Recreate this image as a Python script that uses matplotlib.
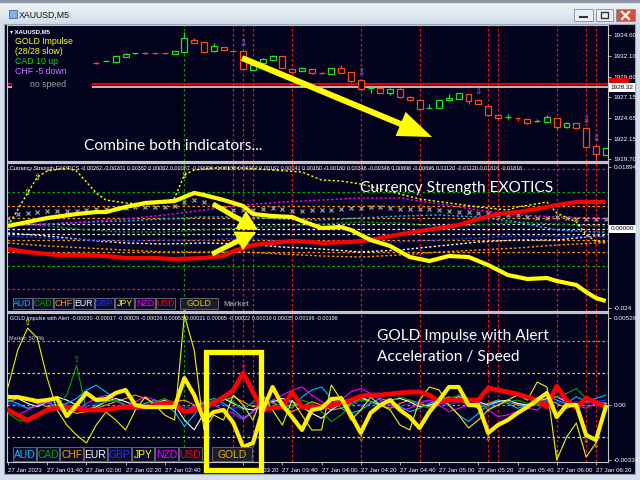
import numpy as np
import matplotlib
matplotlib.use('Agg')
import matplotlib.pyplot as plt
from matplotlib.patches import Rectangle, FancyArrow
from matplotlib.colors import LinearSegmentedColormap
import matplotlib.transforms as mtransforms

plt.rcParams['font.family'] = ['Liberation Sans Narrow', 'Liberation Sans', 'DejaVu Sans']

# ---------------- data ----------------
symbol = 'XAUUSD,M5'
time_labels = ['27 Jan 2023', '27 Jan 01:40', '27 Jan 02:00', '27 Jan 02:20', '27 Jan 02:40',
               '27 Jan 03:00', '27 Jan 03:20', '27 Jan 03:40', '27 Jan 04:00', '27 Jan 04:20',
               '27 Jan 04:40', '27 Jan 05:00', '27 Jan 05:20', '27 Jan 05:40', '27 Jan 06:00',
               '27 Jan 06:20']
n_bars = 62
candle_start = 9
opens = [1931.30, 1931.45, 1931.37, 1932.00, 1932.42, 1932.45, 1932.44, 1932.42, 1932.35, 1932.56,
         1934.00, 1933.76, 1932.68, 1933.16, 1932.70, 1932.68, 1930.41, 1931.30, 1931.60, 1932.08,
         1930.53, 1930.30, 1930.50, 1930.07, 1929.93, 1930.65, 1930.17, 1929.21, 1928.20, 1928.25,
         1927.65, 1928.13, 1927.17, 1926.81, 1925.83, 1925.85, 1926.85, 1926.93, 1927.53, 1926.81,
         1926.09, 1925.01, 1924.76, 1924.68, 1924.54, 1924.28, 1924.18, 1924.66, 1923.58, 1924.06,
         1923.46, 1921.30, 1920.22]
highs = [1931.40, 1931.65, 1932.10, 1932.40, 1932.50, 1932.55, 1932.50, 1932.50, 1932.70, 1934.96,
         1934.30, 1933.80, 1933.60, 1933.20, 1932.72, 1932.70, 1931.05, 1931.85, 1932.20, 1932.10,
         1930.60, 1930.70, 1930.55, 1930.20, 1930.70, 1931.00, 1930.20, 1929.25, 1928.60, 1928.30,
         1928.20, 1928.30, 1927.25, 1926.85, 1926.30, 1926.85, 1927.50, 1927.70, 1927.55, 1926.95,
         1926.15, 1925.05, 1925.10, 1924.70, 1924.60, 1924.50, 1925.00, 1924.70, 1924.20, 1924.10,
         1923.50, 1921.35, 1921.10]
lows = [1931.15, 1931.45, 1931.30, 1931.95, 1932.38, 1932.35, 1932.30, 1932.30, 1932.30, 1932.50,
        1933.60, 1932.50, 1932.60, 1932.80, 1932.60, 1930.45, 1930.35, 1931.25, 1931.55, 1930.60,
        1930.10, 1930.25, 1929.95, 1929.95, 1929.90, 1930.00, 1929.00, 1928.00, 1927.65, 1927.60,
        1927.40, 1927.00, 1926.75, 1925.70, 1925.83, 1925.80, 1926.80, 1926.90, 1926.30, 1926.30,
        1924.90, 1924.60, 1924.50, 1924.30, 1923.90, 1924.20, 1924.15, 1923.40, 1923.50, 1923.40,
        1921.10, 1919.75, 1920.20]
closes = [1931.22, 1931.47, 1932.05, 1932.30, 1932.45, 1932.42, 1932.40, 1932.40, 1932.65, 1934.24,
          1933.70, 1932.56, 1933.28, 1932.85, 1932.66, 1930.53, 1931.00, 1931.70, 1932.08, 1930.65,
          1930.17, 1930.60, 1930.10, 1930.03, 1930.65, 1930.05, 1929.09, 1928.13, 1928.30, 1927.65,
          1928.13, 1927.17, 1926.81, 1925.73, 1925.87, 1926.81, 1927.10, 1927.65, 1926.69, 1926.33,
          1925.01, 1924.66, 1924.80, 1924.64, 1924.06, 1924.32, 1924.78, 1923.58, 1924.06, 1923.46,
          1921.18, 1920.34, 1921.06]
signal_bars = [24, 36, 48, 59, 60]
red_vlines = [23, 24, 25, 29, 36, 42, 49, 50, 56, 59, 60]
green_vlines = [18]
ask_line = 1928.73
bid_line = 1928.32
price_ticks = [1934.60, 1932.10, 1929.60, 1927.15, 1924.65, 1922.15, 1919.70]
info_lines = ['GOLD Impulse', '(28/28 slow)', 'CAD 10 up', 'CHF -5 down', 'no speed']

currencies = ['AUD', 'CAD', 'CHF', 'EUR', 'GBP', 'JPY', 'NZD', 'USD']

cs_title = 'Currency Strength EXOTICS'
cs_header_vals = ['-0.00262', '-0.00201', '0.00382', '0.00062', '0.00067', '-0.00098', '-0.00138',
                  '0.00097', '0.00162', '0.00041', '0.00160', '-0.00160', '0.00348', '-0.00348',
                  '0.00696', '-0.00696', '0.01120', '-0.01120', '0.01816', '-0.01816']
cs_levels = [0.00160, 0.00348, 0.00696, 0.01120, 0.01816]
cs_ticks = [0.01894, -0.024]
cs_gold_x = [0, 2, 4, 7, 9, 10, 12, 14, 17, 18, 19, 20, 22, 24, 25, 27, 29, 30, 32, 34, 35, 37,
             39, 41, 43, 45, 47, 49, 51, 53, 55, 56, 58, 59, 60, 61]
cs_gold = [0.00091, 0.00213, 0.00335, 0.00457, 0.00518, 0.00518, 0.00671, 0.00793, 0.00854, 0.00976,
           0.01098, 0.01037, 0.00884, 0.00701, 0.00457, 0.00396, 0.00366, 0.00244, 0.00030, 0.00061,
           -0.00030, -0.00335, -0.00518, -0.00854, -0.00976, -0.00823, -0.00854, -0.01098, -0.01402,
           -0.01524, -0.01494, -0.01585, -0.01707, -0.01921, -0.02104, -0.02195]
cs_usd_x = [0, 2, 5, 8, 10, 12, 15, 17, 20, 22, 23, 25, 26, 29, 31, 32, 35, 37, 39, 42, 44, 46,
            48, 50, 52, 54, 56, 58, 61]
cs_usd = [-0.00610, -0.00701, -0.00793, -0.00793, -0.00823, -0.00884, -0.00884, -0.00915, -0.00884,
          -0.00823, -0.00671, -0.00488, -0.00457, -0.00366, -0.00396, -0.00427, -0.00396, -0.00335,
          -0.00213, -0.00061, 0.00030, 0.00122, 0.00305, 0.00457, 0.00518, 0.00610, 0.00732,
          0.00823, 0.00823]
cs_market = [0.00335, 0.00457, 0.00488, 0.00518, 0.00549, 0.00549, 0.00549, 0.00549, 0.00579, 0.00610,
             0.00610, 0.00640, 0.00640, 0.00671, 0.00671, 0.00671, 0.00671, 0.00701, 0.00823, 0.00884,
             0.00823, 0.00732, 0.00640, 0.00579, 0.00579, 0.00579, 0.00610, 0.00640, 0.00610, 0.00549,
             0.00549, 0.00579, 0.00579, 0.00579, 0.00610, 0.00640, 0.00640, 0.00671, 0.00671, 0.00640,
             0.00610, 0.00610, 0.00610, 0.00610, 0.00579, 0.00549, 0.00518, 0.00518, 0.00488, 0.00488,
             0.00427, 0.00427, 0.00427, 0.00366, 0.00335, 0.00335, 0.00366, 0.00335, 0.00305, 0.00305,
             0.00305, 0.00305]
cs_cur_x = [0, 4, 8, 12, 16, 20, 24, 28, 32, 36, 40, 44, 48, 52, 56, 60, 61]
cs_aud = [0.00122, 0.00152, 0.00213, 0.00244, 0.00305, 0.00366, 0.00366, 0.00305, 0.00274, 0.00335,
          0.00396, 0.00427, 0.00366, 0.00213, -0.00030, -0.00091, -0.00091]
cs_cad = [0.00213, 0.00091, -0.00030, -0.00091, -0.00091, -0.00030, 0.00030, 0.00091, 0.00152,
          0.00213, 0.00183, 0.00091, 0.00122, 0.00213, 0.00152, 0.00091, 0.00091]
cs_chf = [-0.00427, -0.00518, -0.00579, -0.00640, -0.00701, -0.00701, -0.00701, -0.00762, -0.00823,
          -0.00854, -0.00793, -0.00701, -0.00640, -0.00579, -0.00488, -0.00427, -0.00427]
cs_eur = [-0.00122, -0.00213, -0.00335, -0.00427, -0.00457, -0.00427, -0.00457, -0.00549, -0.00610,
          -0.00701, -0.00640, -0.00518, -0.00396, -0.00335, -0.00335, -0.00213, -0.00213]
cs_gbp = [-0.00213, -0.00274, -0.00335, -0.00366, -0.00335, -0.00335, -0.00274, -0.00366, -0.00427,
          -0.00396, -0.00396, -0.00335, -0.00274, -0.00213, -0.00213, -0.00244, -0.00244]
cs_nzd = [0.00091, 0.00152, 0.00213, 0.00305, 0.00427, 0.00579, 0.00732, 0.00823, 0.00884, 0.00945,
          0.00945, 0.00762, 0.00579, 0.00427, 0.00366, 0.00335, 0.00305]
cs_jpy_x = [0, 2, 3, 4, 6, 7, 8, 9, 10, 12, 14, 16, 17, 18, 19, 21, 24, 27, 30, 32, 34, 36, 38, 40,
            42, 45, 48, 51, 52, 55, 56, 58, 59, 60, 61]
cs_jpy = [0.00091, 0.01098, 0.01585, 0.01768, 0.01860, 0.01768, 0.01433, 0.01098, 0.00884, 0.00793,
          0.00762, 0.00793, 0.00945, 0.01646, 0.01799, 0.01860, 0.01860, 0.01799, 0.01738, 0.01494,
          0.01463, 0.01372, 0.01220, 0.01067, 0.00915, 0.00793, 0.00671, 0.00579, 0.00671, 0.00823,
          0.00488, 0.00213, -0.00183, -0.00366, -0.00396]
cs_up_arrows = [2, 3, 18]

gi_title = 'GOLD Impulse with Alert'
gi_header_vals = ['-0.00030', '-0.00017', '-0.00029', '-0.00026', '0.00053', '0.00021', '0.00065',
                  '-0.00022', '0.00019', '0.00035', '0.00196', '-0.00196']
gi_market_label = 'Market: 50 Pib'
gi_market_level = 0.0039
gi_level = 0.00196
gi_ticks = [0.00526, 0.0, -0.00334]
gi_tick_labels = ['0.00526', '0.00', '-0.00334']
gi_gold = [0.00048, 0.00048, 0.00036, 0.00024, 0.00030, 0.00042, -0.00067, 0.00000, 0.00073, 0.00030,
           0.00036, 0.00073, 0.00091, 0.00000, -0.00012, -0.00012, -0.00012, -0.00012, 0.00163, 0.00061,
           -0.00091, -0.00042, -0.00030, -0.00109, -0.00254, -0.00230, -0.00030, 0.00109, 0.00000, -0.00073,
           -0.00151, -0.00030, -0.00018, 0.00036, 0.00042, -0.00061, -0.00169, -0.00048, 0.00000, 0.00030,
           -0.00030, -0.00073, -0.00139, -0.00042, 0.00030, 0.00109, 0.00109, 0.00000, 0.00000, -0.00169,
           -0.00121, -0.00091, -0.00048, -0.00012, 0.00030, 0.00073, -0.00073, 0.00000, 0.00000, -0.00182,
           -0.00212, -0.00012]
gi_usd = [-0.00030, -0.00061, -0.00091, -0.00061, -0.00030, -0.00018, -0.00012, -0.00018, -0.00030, -0.00030,
          -0.00030, -0.00018, -0.00012, -0.00012, -0.00012, 0.00000, 0.00012, 0.00012, -0.00042, -0.00030,
          -0.00012, 0.00012, 0.00048, 0.00091, 0.00194, 0.00079, -0.00030, -0.00018, -0.00012, 0.00079,
          -0.00012, -0.00012, -0.00012, 0.00000, 0.00012, 0.00030, 0.00054, 0.00061, 0.00061, 0.00067,
          0.00073, 0.00079, 0.00079, 0.00061, 0.00018, 0.00030, 0.00030, 0.00030, 0.00030, 0.00103,
          0.00091, 0.00079, 0.00067, 0.00048, 0.00030, -0.00012, 0.00115, 0.00030, -0.00018, 0.00042,
          0.00018, -0.00012]
gi_jpy = [0.00109, 0.00333, 0.00466, 0.00405, 0.00163, -0.00030, -0.00121, -0.00182, -0.00230, -0.00121,
          -0.00042, -0.00091, -0.00151, -0.00030, 0.00048, 0.00000, -0.00061, -0.00091, 0.00545, 0.00333,
          -0.00151, -0.00061, -0.00091, 0.00061, 0.00000, -0.00091, 0.00061, -0.00030, -0.00121, 0.00030,
          -0.00061, -0.00151, -0.00151, 0.00121, 0.00030, -0.00091, -0.00030, 0.00048, 0.00000, -0.00030,
          -0.00121, -0.00151, 0.00030, 0.00109, 0.00091, 0.00000, -0.00061, -0.00139, -0.00091, -0.00030,
          0.00000, 0.00030, 0.00061, 0.00030, 0.00139, 0.00109, -0.00333, -0.00194, -0.00109, -0.00315,
          -0.00230, 0.00012]
gi_aud = [0.0003, 0.0001, -0.0002, 0.0000, 0.0002, -0.0001, 0.0001, 0.0004, 0.0009, 0.0012,
          0.0008, 0.0003, 0.0000, -0.0002, 0.0001, 0.0003, 0.0000, -0.0004, -0.0013, -0.0006,
          0.0002, 0.0004, 0.0001, -0.0003, -0.0008, -0.0004, 0.0000, 0.0003, 0.0001, -0.0002,
          0.0005, 0.0009, 0.0011, 0.0004, -0.0002, -0.0005, -0.0003, 0.0001, 0.0004, 0.0002,
          -0.0001, -0.0004, -0.0002, 0.0001, 0.0003, 0.0000, -0.0006, -0.0010, -0.0005, 0.0000,
          0.0003, 0.0001, -0.0002, 0.0000, 0.0004, 0.0006, 0.0003, 0.0001, 0.0005, 0.0002,
          0.0004, 0.0006]
gi_cad = [-0.0005, -0.0009, -0.0010, -0.0006, -0.0002, 0.0000, 0.0006, 0.0024, -0.0003, 0.0000,
          0.0002, 0.0003, 0.0000, -0.0003, -0.0001, 0.0002, 0.0004, 0.0001, -0.0004, -0.0002,
          0.0000, 0.0003, 0.0005, 0.0002, -0.0003, 0.0002, 0.0004, 0.0001, -0.0002, 0.0000,
          0.0003, 0.0001, -0.0004, -0.0010, -0.0006, 0.0000, 0.0003, 0.0002, -0.0001, 0.0002,
          0.0005, 0.0003, 0.0000, -0.0002, 0.0001, 0.0004, 0.0006, 0.0003, 0.0001, -0.0002,
          0.0000, 0.0002, 0.0003, 0.0001, 0.0000, 0.0002, 0.0005, 0.0007, 0.0010, 0.0004,
          0.0002, 0.0001]
gi_chf = [0.0002, 0.0004, 0.0003, 0.0001, -0.0001, 0.0000, -0.0003, -0.0005, -0.0004, -0.0002,
          0.0000, 0.0002, 0.0004, 0.0006, 0.0004, 0.0001, -0.0001, 0.0002, 0.0003, 0.0000,
          -0.0002, 0.0001, 0.0003, 0.0005, 0.0002, -0.0001, 0.0000, 0.0002, -0.0002, -0.0004,
          -0.0001, 0.0002, 0.0000, -0.0003, -0.0002, 0.0001, 0.0004, 0.0002, 0.0000, -0.0002,
          0.0001, 0.0003, 0.0001, -0.0001, 0.0002, 0.0005, 0.0003, 0.0000, -0.0002, 0.0001,
          0.0003, 0.0002, 0.0000, -0.0001, 0.0001, 0.0003, 0.0001, -0.0002, 0.0000, 0.0002,
          0.0001, 0.0000]
gi_eur = [0.0006, 0.0004, 0.0001, -0.0001, 0.0002, 0.0005, 0.0003, 0.0000, -0.0003, -0.0001,
          0.0002, 0.0004, 0.0002, 0.0000, -0.0002, 0.0001, 0.0003, 0.0000, -0.0009, -0.0015,
          -0.0005, 0.0002, 0.0004, 0.0001, -0.0002, -0.0003, 0.0000, 0.0002, 0.0004, 0.0002,
          -0.0001, -0.0005, -0.0008, -0.0003, 0.0001, 0.0003, 0.0005, 0.0002, 0.0000, 0.0003,
          0.0004, 0.0002, -0.0001, 0.0000, 0.0002, 0.0003, 0.0005, 0.0004, 0.0002, 0.0000,
          0.0002, 0.0003, 0.0001, 0.0000, 0.0002, 0.0004, 0.0005, 0.0002, 0.0000, 0.0003,
          0.0002, 0.0001]
gi_gbp = [0.0001, 0.0000, -0.0002, -0.0001, 0.0001, 0.0002, 0.0000, -0.0002, -0.0001, 0.0001,
          0.0003, 0.0002, 0.0000, -0.0001, 0.0000, 0.0001, 0.0002, 0.0000, -0.0002, -0.0001,
          0.0001, 0.0002, 0.0000, -0.0002, -0.0001, 0.0001, 0.0000, -0.0001, 0.0001, 0.0002,
          0.0000, -0.0002, -0.0001, 0.0001, 0.0003, 0.0002, 0.0000, 0.0001, 0.0002, 0.0000,
          -0.0001, 0.0001, 0.0002, 0.0003, 0.0001, 0.0000, 0.0002, 0.0003, 0.0001, 0.0000,
          0.0001, 0.0002, 0.0001, 0.0000, 0.0001, 0.0003, 0.0002, 0.0000, 0.0002, 0.0001,
          0.0002, 0.0003]
gi_nzd = [-0.0004, -0.0006, -0.0003, 0.0000, 0.0002, -0.0002, -0.0005, -0.0003, 0.0001, 0.0004,
          0.0006, 0.0003, -0.0001, 0.0002, 0.0005, 0.0003, 0.0000, -0.0002, -0.0004, -0.0001,
          0.0002, 0.0000, -0.0003, -0.0005, -0.0009, -0.0004, 0.0000, 0.0003, 0.0006, 0.0009,
          0.0011, 0.0006, 0.0002, -0.0002, 0.0003, 0.0008, 0.0010, 0.0007, 0.0003, 0.0000,
          -0.0003, -0.0002, 0.0001, 0.0003, 0.0000, -0.0004, -0.0002, 0.0000, 0.0002, -0.0003,
          -0.0007, -0.0006, -0.0004, -0.0002, -0.0003, 0.0002, 0.0005, 0.0003, 0.0000, -0.0002,
          0.0001, 0.0000]
gi_up_marks = [('jpy', 2), ('jpy', 18), ('cad', 7), ('usd', 24)]
gi_down_marks = [('gold', 24), ('gold', 36), ('gold', 49), ('jpy', 56), ('gold', 59), ('gold', 60)]

# ---------------- styling ----------------
W, H = 640, 480
BG = '#03031d'
FRAME = '#c8c8c8'
cur_colors = {'AUD': '#00bfff', 'CAD': '#00a400', 'CHF': '#ff9a00', 'EUR': '#ffffff',
              'GBP': '#2233ff', 'JPY': '#ffff00', 'NZD': '#ff00ff', 'USD': '#ff0000'}
BULL = '#22e022'
BEAR = '#ff4a10'
BIG = ['Lato', 'DejaVu Sans']
SMALL = ['Liberation Sans Narrow', 'Liberation Sans', 'DejaVu Sans']
ARIAL = ['Liberation Sans', 'DejaVu Sans']


def box(x0, y0, x1, y1):
    return [x0 / W, 1 - y1 / H, (x1 - x0) / W, (y1 - y0) / H]


fig = plt.figure(figsize=(6.4, 4.8), dpi=100)
fig.patch.set_facecolor('#d5dfeb')

# background / window chrome
bg = fig.add_axes([0, 0, 1, 1], zorder=0)
bg.axis('off')
grad = np.linspace(0, 1, 50).reshape(-1, 1)
bg.imshow(grad, extent=(0, W, 24, 0), origin='upper', aspect='auto',
          cmap=LinearSegmentedColormap.from_list('tb', ['#f4f7fb', '#d2dce8']))
bg.add_patch(Rectangle((0, 0), W, 2, color='#8d99a8'))
bg.add_patch(Rectangle((4, 24), 631, 450, facecolor=BG, edgecolor='#9aa6b5', lw=0.8))
bg.add_patch(Rectangle((9, 10), 8, 8, facecolor='#7fb2e5', edgecolor='#3d6ea8', lw=0.6))
bg.text(19, 15.5, symbol, fontsize=6.3, color='#111111', va='center', family=ARIAL)
for (x0, x1), fc in [((574, 593), '#e9eff6'), ((596, 613), '#e9eff6'), ((616, 635), '#d0533f')]:
    bg.add_patch(Rectangle((x0, 9), x1 - x0, 12, facecolor=fc, edgecolor='#7d8ca0', lw=0.6))
bg.plot([580, 587], [17, 17], color='#333333', lw=1.5)
bg.add_patch(Rectangle((601, 12), 7, 6, facecolor='none', edgecolor='#333333', lw=1.0))
bg.plot([622, 629], [12, 19], color='white', lw=1.6)
bg.plot([622, 629], [19, 12], color='white', lw=1.6)
bg.add_patch(Rectangle((7, 161), 601, 2.4, color='#bdbdbd'))
bg.add_patch(Rectangle((7, 311), 601, 2.4, color='#bdbdbd'))
bg.set_xlim(0, W)
bg.set_ylim(H, 0)

XMIN, XMAX = -0.102, 61.23
ax1 = fig.add_axes(box(7, 25, 608, 161), zorder=1)
ax2 = fig.add_axes(box(7, 163.4, 608, 311), zorder=1)
ax3 = fig.add_axes(box(7, 313.4, 608, 462), zorder=1)
ax1.set_ylim(1919.51, 1935.80)
ax2.set_ylim(-0.0250, 0.0200)
ax3.set_ylim(-0.00345, 0.00555)

for ax in (ax1, ax2, ax3):
    ax.set_facecolor(BG)
    ax.set_xlim(XMIN, XMAX)
    for s in ax.spines.values():
        s.set_color(FRAME)
        s.set_linewidth(0.8)
    ax.tick_params(axis='y', left=False, labelleft=False, right=True, labelright=True,
                   length=2.5, width=0.6, color=FRAME, labelcolor='white', labelsize=4.6, pad=1.5)
    ax.tick_params(axis='x', bottom=False, labelbottom=False)
    for i in red_vlines:
        ax.axvline(i, color='#ff1010', lw=0.9, ls=(0, (2, 2)), zorder=1)
    for i in green_vlines:
        ax.axvline(i, color='#00a000', lw=0.9, ls=(0, (2, 2)), zorder=1)

# ---------------- panel 1: price ----------------
ax1.set_yticks(price_ticks)
ax1.set_yticklabels(['%.2f' % p for p in price_ticks])
ax1.hlines([ask_line, bid_line], 8.6, XMAX, colors=['#ff0000', '#c8c8c8'], lw=1.3, zorder=2)
ax1.hlines([ask_line, bid_line], XMIN, 0.45, colors=['#ff0000', '#c8c8c8'], lw=1.3, zorder=2)
for k, (o, h, l, c) in enumerate(zip(opens, highs, lows, closes)):
    i = candle_start + k
    col = BULL if c >= o else BEAR
    ax1.vlines(i, l, h, color=col, lw=0.9, zorder=3)
    lo, hi = min(o, c), max(o, c)
    ax1.add_patch(Rectangle((i - 0.3, lo), 0.6, max(hi - lo, 0.015), facecolor=BG,
                            edgecolor=col, lw=0.9, zorder=4))
for i in signal_bars:
    ax1.text(i, highs[i - candle_start] + 0.25, '\u21e9', color='#b27dff', fontsize=6.5,
             ha='center', va='bottom', family=['DejaVu Sans'], zorder=5)
t1 = mtransforms.blended_transform_factory(ax1.transAxes, ax1.transData)
ax1.text(1.004, ask_line + 0.35, '          ', transform=t1, fontsize=4.6, va='center', ha='left',
         bbox=dict(boxstyle='square,pad=0.15', fc='#e00000', ec='none'), clip_on=False, zorder=6)
ax1.text(1.004, bid_line, '%.2f' % bid_line, transform=t1, fontsize=4.6, va='center', ha='left',
         color='black', bbox=dict(boxstyle='square,pad=0.25', fc='white', ec='none'),
         clip_on=False, zorder=7)

# ---------------- panel 2: currency strength ----------------
ax2.set_yticks(cs_ticks)
ax2.set_yticklabels(['%.5f' % cs_ticks[0], '%.3f' % cs_ticks[1]])
lvl_cols = ['#e8e8e8', '#ff9a00', '#ff9a00', '#00b000', '#ff1010']
for lv, col in zip(cs_levels, lvl_cols):
    ax2.axhline(lv, color=col, lw=0.9, ls=(0, (2, 2)), zorder=1)
    ax2.axhline(-lv, color=col, lw=0.9, ls=(0, (2, 2)), zorder=1)
ax2.axhline(0, color='white', lw=0.9, ls=(0, (2, 2)), zorder=1)
for name, vals in [('CHF', cs_chf), ('EUR', cs_eur), ('GBP', cs_gbp), ('CAD', cs_cad),
                   ('AUD', cs_aud), ('NZD', cs_nzd)]:
    ax2.plot(cs_cur_x, vals, color=cur_colors[name], lw=1.0, ls=(0, (1.6, 1.6)), zorder=2)
ax2.plot(cs_jpy_x, cs_jpy, color='#ffff00', lw=1.0, ls=(0, (1.6, 1.6)), zorder=2)
ax2.plot(np.arange(n_bars), cs_market, ls='none', marker='x', ms=2.6, mew=0.8, color='#a8a8a8', zorder=3)
ax2.plot(cs_usd_x, cs_usd, color='#ff0000', lw=3.0, zorder=4, solid_capstyle='butt')
ax2.plot(cs_gold_x, cs_gold, color='#ffff00', lw=3.0, zorder=5, solid_capstyle='butt')
for i in cs_up_arrows:
    ax2.text(i, cs_jpy[cs_jpy_x.index(i)], '\u21e7', color='#ffff00', fontsize=6.5, ha='center',
             va='center', family=['DejaVu Sans'], zorder=6)
t2 = mtransforms.blended_transform_factory(ax2.transAxes, ax2.transData)
ax2.text(1.004, 0, '0.00000', transform=t2, fontsize=4.6, va='center', ha='left', color='black',
         bbox=dict(boxstyle='square,pad=0.25', fc='white', ec='none'), clip_on=False, zorder=7)
ax2.text(0.005, 0.985, cs_title + ' ' + ' '.join(cs_header_vals), transform=ax2.transAxes,
         color='white', fontsize=3.9, va='top', ha='left', family=SMALL, zorder=8)

# ---------------- panel 3: impulse ----------------
ax3.set_yticks(gi_ticks)
ax3.set_yticklabels(gi_tick_labels)
ax3.axhline(gi_market_level, color='#9a9a9a', lw=0.9, ls=(0, (2, 2)), zorder=1)
ax3.axhline(0, color='#9a9a9a', lw=0.9, ls=(0, (2, 2)), zorder=1)
ax3.axhline(gi_level, color='#e8e800', lw=0.9, ls=(0, (2, 2)), zorder=1)
ax3.axhline(-gi_level, color='#e8e800', lw=0.9, ls=(0, (2, 2)), zorder=1)
xs = np.arange(n_bars)
series3 = {'gold': gi_gold, 'usd': gi_usd, 'jpy': gi_jpy, 'cad': gi_cad}
for name, vals in [('CHF', gi_chf), ('GBP', gi_gbp), ('EUR', gi_eur), ('AUD', gi_aud),
                   ('NZD', gi_nzd), ('CAD', gi_cad)]:
    ax3.plot(xs, vals, color=cur_colors[name], lw=0.8, zorder=2)
ax3.plot(xs, gi_jpy, color='#f0f000', lw=0.8, zorder=3)
ax3.plot(xs, gi_usd, color='#ff0000', lw=3.4, zorder=4)
ax3.plot(xs, gi_gold, color='#ffee00', lw=3.0, zorder=5)
mark_col = {'jpy': '#ffff00', 'cad': '#00b000', 'usd': '#ff2020', 'gold': '#e8d000'}
for name, i in gi_up_marks:
    ax3.text(i, series3[name][i] + 0.00008, '\u21e7', color=mark_col[name], fontsize=6.5,
             ha='center', va='bottom', family=['DejaVu Sans'], zorder=6, clip_on=False)
for name, i in gi_down_marks:
    ax3.text(i, max(series3[name][i] - 0.00008, -0.0027), '\u21e9', color=mark_col[name],
             fontsize=5.5, ha='center', va='top', family=['DejaVu Sans'], zorder=6, clip_on=True)
ax3.text(0.005, 0.985, gi_title + ' ' + ' '.join(gi_header_vals), transform=ax3.transAxes,
         color='white', fontsize=3.9, va='top', ha='left', family=SMALL, zorder=8)
ax3.text(0.004, gi_market_level, gi_market_label,
         transform=mtransforms.blended_transform_factory(ax3.transAxes, ax3.transData),
         color='#d0d0d0', fontsize=3.9, va='bottom', ha='left', family=SMALL, zorder=8)
ax3.set_xticks(np.arange(0, 61, 4))
ax3.set_xticklabels(time_labels, ha='left')
ax3.tick_params(axis='x', bottom=True, labelbottom=True, length=2.5, width=0.6, color=FRAME,
                labelcolor='white', labelsize=4.4, pad=1.5)

# ---------------- overlay ----------------
ov = fig.add_axes([0, 0, 1, 1], zorder=5)
ov.axis('off')
ov.set_xlim(0, W)
ov.set_ylim(H, 0)

ov.text(10, 33, '\u25be ' + symbol, color='white', fontsize=4.3, fontweight='bold', family=ARIAL)
info_cols = ['#ffff00', '#ffff00', '#10e010', '#cc77ff', '#a0a0a0']
info_pos = [(15, 44), (15, 54), (15, 64), (15, 74), (30, 87)]
for txt, col, (x, y) in zip(info_lines, info_cols, info_pos):
    ov.text(x, y, txt, color=col, fontsize=6.3, family=SMALL, va='baseline')

ov.text(84, 150, 'Combine both indicators...', color='white', fontsize=11.2, family=BIG, va='baseline')
ov.text(360, 192, 'Currency Strength EXOTICS', color='white', fontsize=11.2, family=BIG, va='baseline')
ov.text(377, 340, 'GOLD Impulse with Alert', color='white', fontsize=11.2, family=BIG, va='baseline')
ov.text(377, 361, 'Acceleration / Speed', color='white', fontsize=11.2, family=BIG, va='baseline')

YEL = '#ffff00'
ov.add_patch(FancyArrow(242, 58, 190, 79, width=6, head_width=26, head_length=34,
                        length_includes_head=True, color=YEL, lw=0))
ov.add_patch(FancyArrow(213, 204, 45, 26, width=5, head_width=21, head_length=20,
                        length_includes_head=True, color=YEL, lw=0))
ov.add_patch(FancyArrow(212, 254, 44, -22, width=5, head_width=21, head_length=20,
                        length_includes_head=True, color=YEL, lw=0))


def legend(x0, y0, step, h, fs, gold_box, gold_col, market=False):
    for k, name in enumerate(currencies):
        x = x0 + k * step
        ov.add_patch(Rectangle((x, y0), step - 1, h, facecolor='#0b0b2a', edgecolor='#707080', lw=0.6))
        ov.text(x + (step - 1) / 2, y0 + h / 2 + 0.5, name, color=cur_colors[name], fontsize=fs,
                ha='center', va='center', family=ARIAL)
    gx0, gx1 = gold_box
    ov.add_patch(Rectangle((gx0, y0), gx1 - gx0, h, facecolor='#1d1d2c', edgecolor='#707080', lw=0.6))
    ov.text((gx0 + gx1) / 2, y0 + h / 2 + 0.5, 'GOLD', color=gold_col, fontsize=fs, ha='center',
            va='center', family=ARIAL)
    if market:
        ov.text(gx1 + 5, y0 + h / 2 + 1, 'Market', color='#8a8a8a', fontsize=fs - 0.5,
                fontweight='bold', ha='left', va='center', family=ARIAL)


legend(13, 298, 20.4, 11, 6.3, (180, 218), '#e8c800', market=True)
legend(13, 447, 23.7, 14, 7.4, (212, 252), '#f0b400')

ov.add_patch(Rectangle((206, 352), 55, 118, facecolor='none', edgecolor=YEL, lw=3.8))

fig.savefig('out.png', dpi=100, facecolor=fig.get_facecolor())
